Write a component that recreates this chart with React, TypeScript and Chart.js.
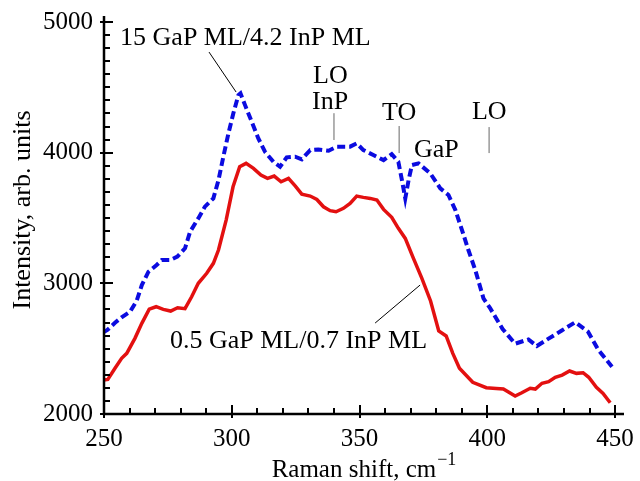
import React, { useEffect, useRef } from "react";
import { Chart, registerables } from "chart.js";

Chart.register(...registerables);

// Raman shift (cm^-1) and intensity (arb. units)
const redShift = [249.5, 251.5, 254.3, 256.9, 258.9, 262.1, 264.8, 267.7, 270.4, 273.2, 276.1, 278.8, 281.7, 284.3, 286.9, 290.2, 292.8, 294.8, 297.8, 300.5, 303.1, 305.6, 308.5, 311.4, 314.0, 316.6, 319.3, 322.2, 324.9, 327.4, 330.7, 333.3, 335.9, 338.5, 340.8, 343.7, 346.3, 348.9, 351.5, 354.2, 356.8, 359.4, 362.6, 365.2, 367.9, 371.1, 374.4, 377.8, 381.0, 383.9, 386.5, 389.1, 394.3, 399.6, 403.5, 406.3, 410.9, 413.5, 416.8, 418.8, 421.4, 424.0, 426.6, 429.3, 432.2, 434.9, 437.5, 439.7, 442.7, 445.3, 448.1];
const redIntensity = [2260, 2265, 2350, 2426, 2464, 2579, 2694, 2803, 2821, 2801, 2788, 2813, 2806, 2897, 3000, 3077, 3153, 3255, 3484, 3739, 3892, 3918, 3880, 3829, 3803, 3821, 3777, 3803, 3744, 3683, 3668, 3642, 3586, 3556, 3548, 3574, 3612, 3668, 3658, 3650, 3637, 3566, 3505, 3421, 3344, 3191, 3038, 2865, 2635, 2597, 2464, 2350, 2243, 2201, 2195, 2191, 2138, 2163, 2197, 2191, 2235, 2247, 2281, 2298, 2329, 2311, 2316, 2281, 2204, 2158, 2086];

const blueShift = [249.5, 251.3, 254.3, 256.9, 260.2, 262.8, 264.8, 267.4, 270.6, 272.6, 275.8, 278.7, 281.7, 283.7, 286.9, 289.5, 292.8, 294.8, 296.7, 298.7, 300.6, 302.6, 303.4, 305.2, 307.8, 310.4, 313.0, 316.3, 318.9, 321.5, 324.8, 327.4, 330.7, 333.9, 337.9, 341.1, 343.7, 346.3, 348.9, 351.5, 355.4, 359.4, 362.6, 365.2, 366.6, 367.9, 369.2, 370.5, 373.1, 377.7, 381.6, 384.8, 387.5, 390.1, 392.6, 395.3, 398.5, 401.1, 406.0, 410.9, 416.1, 419.4, 423.8, 429.0, 434.4, 439.4, 443.5, 448.8];
const blueIntensity = [2622, 2643, 2698, 2740, 2783, 2867, 2987, 3089, 3140, 3178, 3178, 3204, 3268, 3395, 3497, 3587, 3650, 3790, 3969, 4148, 4300, 4441, 4454, 4364, 4237, 4109, 4007, 3930, 3892, 3964, 3969, 3949, 4020, 4025, 4015, 4046, 4046, 4046, 4071, 4020, 3982, 3943, 3989, 3930, 3790, 3650, 3790, 3905, 3918, 3841, 3727, 3676, 3561, 3408, 3255, 3102, 2885, 2810, 2650, 2538, 2571, 2520, 2575, 2637, 2702, 2630, 2490, 2362];

const xTickValues = [250, 300, 350, 400, 450];
const yTickValues = [2000, 3000, 4000, 5000];
const xMinorStep = 10;
const yMinorStep = 100;

const redLabel = "0.5 GaP ML/0.7 InP ML";
const blueLabel = "15 GaP ML/4.2 InP ML";
const xTitle = "Raman shift, cm";
const xTitleSup = "\u22121";
const yTitle = "Intensity, arb. units";

// text annotations in data units: [text, shift, intensity]
const textNotes: [string, number, number][] = [
  [blueLabel, 256.3, 4824],
  ["LO", 331.8, 4533],
  ["InP", 331.4, 4334],
  ["TO", 358.8, 4250],
  ["GaP", 371.3, 3967],
  ["LO", 394.0, 4258],
  [redLabel, 275.8, 2505],
];
// marker / leader lines in data units: [x1, y1, x2, y2, colour]
const lineNotes: [number, number, number, number, string][] = [
  [291.1, 4770, 301.7, 4464, "#000"],
  [340.0, 4302, 340.0, 4097, "#666"],
  [365.5, 4204, 365.5, 3997, "#666"],
  [400.7, 4196, 400.7, 3997, "#666"],
  [356.1, 2696, 373.7, 2987, "#000"],
];

const FONT = "'Liberation Serif', 'Times New Roman', serif";

const decorPlugin = {
  id: "decor",
  afterDraw(chart: any) {
    const { ctx, chartArea, scales } = chart;
    const xs = scales.x;
    const ys = scales.y;
    const { left, right, top, bottom } = chartArea;
    ctx.save();
    ctx.strokeStyle = "#000";
    ctx.lineWidth = 2.5;
    ctx.beginPath();
    ctx.moveTo(left, top);
    ctx.lineTo(left, bottom);
    ctx.lineTo(right, bottom);
    ctx.stroke();

    ctx.lineWidth = 2;
    // y ticks
    for (let v = yTickValues[0]; v <= yTickValues[yTickValues.length - 1]; v += yMinorStep) {
      const py = Math.round(ys.getPixelForValue(v));
      const major = yTickValues.includes(v);
      ctx.beginPath();
      ctx.moveTo(major ? left - 4 : left, py);
      ctx.lineTo(major ? left + 9 : left + 6, py);
      ctx.stroke();
    }
    // x ticks
    for (let v = xTickValues[0]; v <= xTickValues[xTickValues.length - 1]; v += xMinorStep) {
      const px = Math.round(xs.getPixelForValue(v));
      const major = xTickValues.includes(v);
      ctx.beginPath();
      ctx.moveTo(px, major ? bottom + 4 : bottom);
      ctx.lineTo(px, major ? bottom - 9 : bottom - 6);
      ctx.stroke();
    }

    // annotation lines
    ctx.lineWidth = 1;
    for (const [x1, y1, x2, y2, c] of lineNotes) {
      ctx.strokeStyle = c;
      ctx.beginPath();
      ctx.moveTo(xs.getPixelForValue(x1), ys.getPixelForValue(y1));
      ctx.lineTo(xs.getPixelForValue(x2), ys.getPixelForValue(y2));
      ctx.stroke();
    }

    // annotation texts
    ctx.fillStyle = "#000";
    ctx.font = `26px ${FONT}`;
    ctx.textAlign = "left";
    ctx.textBaseline = "alphabetic";
    for (const [t, x, y] of textNotes) {
      ctx.fillText(t, xs.getPixelForValue(x), ys.getPixelForValue(y));
    }

    // x title
    ctx.font = `25px ${FONT}`;
    const w1 = ctx.measureText(xTitle).width;
    ctx.font = `18px ${FONT}`;
    const w2 = ctx.measureText(xTitleSup).width;
    const cx = (left + right) / 2;
    const startX = cx - (w1 + w2 + 1) / 2;
    ctx.font = `25px ${FONT}`;
    ctx.fillText(xTitle, startX, 477);
    ctx.font = `18px ${FONT}`;
    ctx.fillText(xTitleSup, startX + w1 + 1, 465);

    // y title
    ctx.font = `26px ${FONT}`;
    ctx.translate(30, 210);
    ctx.rotate(-Math.PI / 2);
    ctx.textAlign = "center";
    ctx.fillText(yTitle, 0, 0);
    ctx.restore();
  },
};

export default function App() {
  const ref = useRef<HTMLCanvasElement>(null);
  useEffect(() => {
    if (!ref.current) return;
    const chart = new Chart(ref.current, {
      type: "line",
      data: {
        datasets: [
          {
            label: blueLabel,
            data: blueShift.map((x, i) => ({ x, y: blueIntensity[i] })),
            borderColor: "#0b0be0",
            borderWidth: 4,
            borderDash: [8, 4],
            pointRadius: 0,
            tension: 0,
            fill: false,
          },
          {
            label: redLabel,
            data: redShift.map((x, i) => ({ x, y: redIntensity[i] })),
            borderColor: "#e31010",
            borderWidth: 3.5,
            pointRadius: 0,
            tension: 0,
            fill: false,
          },
        ],
      },
      options: {
        responsive: false,
        animation: false,
        devicePixelRatio: 1,
        layout: { padding: { top: 16, right: 16, left: 0, bottom: 0 } },
        plugins: { legend: { display: false }, tooltip: { enabled: false } },
        scales: {
          x: {
            type: "linear",
            min: 250,
            max: 453.5,
            grid: { display: false, drawTicks: false },
            border: { display: false },
            afterBuildTicks: (s: any) => {
              s.ticks = xTickValues.map((v) => ({ value: v }));
            },
            afterFit: (s: any) => {
              s.height = 67;
              s.paddingLeft = 0;
              s.paddingRight = 0;
            },
            ticks: {
              color: "#000",
              padding: 10,
              maxRotation: 0,
              font: { family: FONT, size: 25 },
              callback: (v: any) => String(v),
            },
          },
          y: {
            type: "linear",
            min: 2000,
            max: 5046,
            grid: { display: false, drawTicks: false },
            border: { display: false },
            afterBuildTicks: (s: any) => {
              s.ticks = yTickValues.map((v) => ({ value: v }));
            },
            afterFit: (s: any) => {
              s.width = 104;
              s.paddingTop = 0;
              s.paddingBottom = 0;
            },
            ticks: {
              color: "#000",
              padding: 11,
              font: { family: FONT, size: 25 },
              callback: (v: any) => String(v),
            },
          },
        },
      },
      plugins: [decorPlugin],
    });
    return () => chart.destroy();
  }, []);
  return (
    <div style={{ position: "absolute", left: 0, top: 0, width: 640, height: 481, background: "#fff" }}>
      <canvas ref={ref} width={640} height={481} />
    </div>
  );
}
